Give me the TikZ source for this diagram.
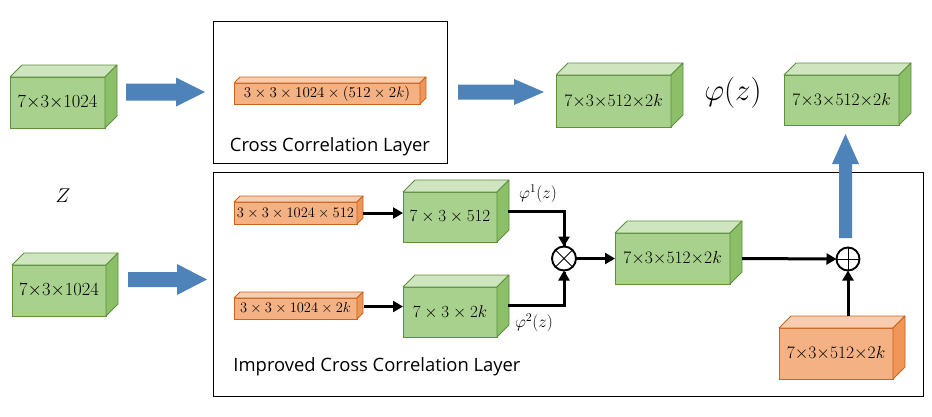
\documentclass[tikz,border=0pt]{standalone}
\usepackage{fix-cm}
\usepackage{fontspec}
\newfontfamily\labfont{Open Sans}
\usetikzlibrary{arrows.meta,calc}
\definecolor{gmain}{HTML}{A9D18E}
\definecolor{gtop}{HTML}{CFE5C0}
\definecolor{gside}{HTML}{8CC068}
\definecolor{gline}{HTML}{5E8F3E}
\definecolor{omain}{HTML}{F4B183}
\definecolor{otop}{HTML}{F8CDAF}
\definecolor{oside}{HTML}{EF9658}
\definecolor{oline}{HTML}{C8641E}
\definecolor{bluearr}{HTML}{4E83B9}
\tikzset{
  gfront/.style={draw=gline, fill=gmain, line width=0.8pt, inner sep=0pt, outer sep=0pt},
  gface/.style={draw=gline, line width=0.8pt, line join=round},
  ofront/.style={draw=oline, fill=omain, line width=0.8pt, inner sep=0pt, outer sep=0pt},
  oface/.style={draw=oline, line width=0.8pt, line join=round},
  blk/.style={line width=3pt, -{Triangle[length=10pt,width=11pt]}},
  blkline/.style={line width=3pt},
  opcircle/.style={circle, draw, fill=white, line width=1.9pt, inner sep=0pt, outer sep=0pt},
  frame/.style={draw, line width=0.9pt},
  blockarr/.style={fill=bluearr, draw=none},
  lab/.style={font=\labfont\fontsize{18.4}{21}\selectfont},
}
\newcommand{\tdbox}[7]{%
  \node[#6front, minimum width=#3pt, minimum height=#4pt] (#1) at (#2) {#7};
  \draw[#6face, fill=#6top] (#1.north west) -- ++(#5,-#5) -- ($(#1.north east)+(#5,-#5)$) -- (#1.north east) -- cycle;
  \draw[#6face, fill=#6side] (#1.north east) -- ++(#5,-#5) -- ($(#1.south east)+(#5,-#5)$) -- (#1.south east) -- cycle;
}
\newcommand{\tightdim}[1]{\fontsize{17.5}{19}\selectfont$#1$}
\newcommand{\tightbig}[1]{\fontsize{18.5}{20}\selectfont$#1$}
\begin{document}
\begin{tikzpicture}[x=1pt, y=-1pt]
\useasboundingbox (0,0) rectangle (932,416);
\fill[white] (0,0) rectangle (932,416);
% frames
\node[frame, minimum width=234pt, minimum height=142pt, inner sep=0pt, outer sep=0pt] (ccbox) at (330,92) {};
\node[frame, minimum width=710pt, minimum height=224pt, inner sep=0pt, outer sep=0pt] (icbox) at (568,284) {};
\node[lab] (cclab) at (330,147) {Cross Correlation Layer};
\node[lab] (iclab) at (377,367) {Improved Cross Correlation Layer};
% top row
\tdbox{c1}{57.5,102.5}{95}{51}{12}{g}{\tightbig{7{\times}3{\times}1024}}
\tdbox{ob}{327,93.5}{186}{21}{6}{o}{\fontsize{15}{17}\selectfont$3\times3\times1024\times(512\times2k)$}
\tdbox{g2}{613.5,101}{115}{52}{12}{g}{\tightdim{7{\times}3{\times}512{\times}2k}}
\tdbox{g3}{841.5,100}{115}{50}{12}{g}{\tightdim{7{\times}3{\times}512{\times}2k}}
\node (phi) at (733,93) {\fontsize{31}{33}\selectfont$\varphi(z)$};
\node (zlab) at (63,196) {\fontsize{20}{22}\selectfont$Z$};
% bottom-left
\tdbox{c2}{59,290.5}{94}{51}{12}{g}{\tightbig{7{\times}3{\times}1024}}
% improved layer
\tdbox{o1}{295.5,213}{123}{22}{6}{o}{\fontsize{14.5}{16}\selectfont$3\times3\times1024\times512$}
\tdbox{o2}{295.5,308.5}{123}{21}{6}{o}{\fontsize{14.5}{16}\selectfont$3\times3\times1024\times2k$}
\tdbox{gA}{450,217}{94}{50}{12}{g}{\fontsize{17}{19}\selectfont$7\times3\times512$}
\tdbox{gB}{450,312}{94}{50}{12}{g}{\fontsize{17}{19}\selectfont$7\times3\times2k$}
\tdbox{gC}{672.5,258.5}{115}{51}{12}{g}{\tightdim{7{\times}3{\times}512{\times}2k}}
\tdbox{oD}{836,353.5}{114}{51}{12}{o}{\tightdim{7{\times}3{\times}512{\times}2k}}
\node[opcircle, minimum size=24pt] (mul) at (564,258.5) {};
\draw[line width=0.9pt] (mul.north west) -- (mul.south east) (mul.north east) -- (mul.south west);
\node[opcircle, minimum size=23pt] (add) at (848,259) {};
\draw[line width=0.9pt] (add.north) -- (add.south) (add.west) -- (add.east);
\node (phi1) at (538,194) {\fontsize{17}{19}\selectfont$\varphi^1(z)$};
\node (phi2) at (534,323) {\fontsize{17}{19}\selectfont$\varphi^2(z)$};
% black connectors
\draw[blk] ($(o1.east)+(6,0)$) -- (o1.east -| gA.west);
\draw[blk] ($(o2.east)+(7,-2)$) -- ($(o2.east -| gB.west)+(0,-2)$);
\draw[blkline] ($(gA.east)+(11,-6)$) -| ($(mul.north)+(0,-1)$);
\draw[blk] ($(mul.north)+(0,-20)$) -- (mul.north);
\draw[blkline] ($(gB.east)+(11,-7)$) -| ($(mul.south)+(0,1)$);
\draw[blk] ($(mul.south)+(0,20)$) -- (mul.south);
\draw[blk] (mul.east) -- (gC.west);
\draw[blk] ($(gC.east)+(12,0)$) -- (add.west);
\draw[blk] ($(oD.north)+(12,-12)$) -- (add.south);
% block arrows
\fill[blockarr] (126,83.5) -- (176,83.5) -- (176,77.5) -- (205,92) -- (176,106.5) -- (176,100.5) -- (126,100.5) -- cycle;
\fill[blockarr] (458,84.5) -- (514,84.5) -- (514,79) -- (544,92) -- (514,105) -- (514,99.5) -- (458,99.5) -- cycle;
\fill[blockarr] (128,272) -- (177,272) -- (177,264) -- (207,279.5) -- (177,295) -- (177,287) -- (128,287) -- cycle;
\fill[blockarr] (839,238) -- (839,164) -- (832,164) -- (845.5,134) -- (859,164) -- (852,164) -- (852,238) -- cycle;
\end{tikzpicture}
\end{document}
